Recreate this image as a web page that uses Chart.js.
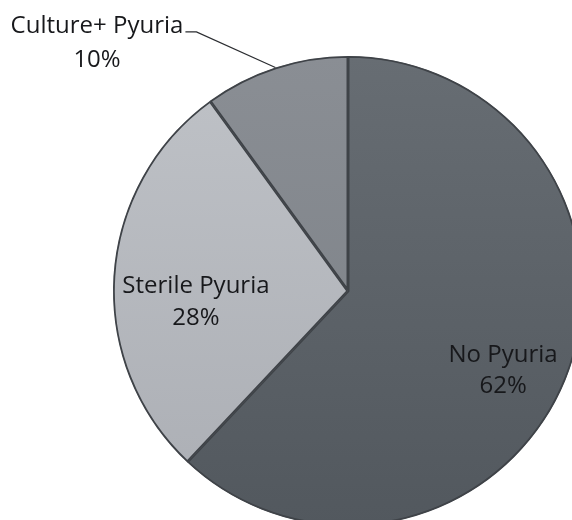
<!DOCTYPE html>
<html>
<head>
<meta charset="utf-8">
<script src="https://cdn.jsdelivr.net/npm/chart.js@4.4.1/dist/chart.umd.min.js"></script>
<style>
  html, body { margin: 0; padding: 0; background: #fff; overflow: hidden; width: 572px; height: 520px; }
  #wrap { position: absolute; left: 0; top: 0; width: 696px; height: 584px; }
</style>
</head>
<body>
<div id="wrap"><canvas id="pie" width="696" height="584"></canvas></div>
<script>
// data
const categories = ['No Pyuria', 'Sterile Pyuria', 'Culture+ Pyuria'];
const shares = [62, 28, 10];
const percentLabels = ['62%', '28%', '10%'];

const FILLS = [
  ['#676d73', '#52585e'],   // no pyuria, top -> bottom
  ['#bfc2c7', '#abaeb4'],   // sterile
  ['#8a8e94', '#7a7f85'],   // culture+
];
const TEXT = '#17181b';
const FONT = "24px 'Open Sans', sans-serif";

// label anchor (x, baseline1, baseline2) in units of the pie radius, from its centre
const LABEL_POS = [
  [0.66, 0.302, 0.434],
  [-0.647, 0.009, 0.145],
  [-1.068, -1.098, -0.953],
];

// ─── Labels drawn on top of the slices ───────────────────────────────────
const sliceLabels = {
  id: 'sliceLabels',
  afterDatasetsDraw(chart) {
    const { ctx } = chart;
    const arcs = chart.getDatasetMeta(0).data;
    ctx.save();
    ctx.font = FONT;
    ctx.fillStyle = TEXT;
    ctx.textAlign = 'center';
    ctx.textBaseline = 'alphabetic';
    arcs.forEach((arc, i) => {
      const { x, y, outerRadius: r } = arc;
      const [fx, f1, f2] = LABEL_POS[i];
      const cx = x + fx * r;
      ctx.fillText(categories[i], cx, y + f1 * r);
      ctx.fillText(percentLabels[i], cx, y + f2 * r);

      // the outside label gets a leader line to the slice edge
      if (fx * fx + f1 * f1 > 1) {
        const w = ctx.measureText(categories[i]).width;
        const sx = cx + w / 2 + 2;
        const sy = y + f1 * r - 1;
        const mid = (arc.startAngle + arc.endAngle) / 2;
        ctx.strokeStyle = '#2b2d31';
        ctx.lineWidth = 1.2;
        ctx.beginPath();
        ctx.moveTo(sx, sy);
        ctx.lineTo(sx + 11, sy);
        ctx.lineTo(x + Math.cos(mid) * r, y + Math.sin(mid) * r);
        ctx.stroke();
      }
    });
    ctx.restore();
  },
};

new Chart(document.getElementById('pie'), {
  type: 'pie',
  data: {
    labels: categories,
    datasets: [{
      data: shares,
      backgroundColor: (c) => {
        const area = c.chart.chartArea;
        if (!area) return FILLS[c.dataIndex][0];
        const g = c.chart.ctx.createLinearGradient(0, area.top, 0, area.bottom);
        g.addColorStop(0, FILLS[c.dataIndex][0]);
        g.addColorStop(1, FILLS[c.dataIndex][1]);
        return g;
      },
      borderColor: '#3f4348',
      borderWidth: 1.5,
      borderAlign: 'inner',
    }],
  },
  options: {
    responsive: false,
    animation: false,
    layout: { padding: { left: 113, right: 113, top: 56, bottom: 58 } },
    plugins: {
      legend: { display: false },
      tooltip: { enabled: false },
    },
  },
  plugins: [sliceLabels],
});
</script>
</body>
</html>
